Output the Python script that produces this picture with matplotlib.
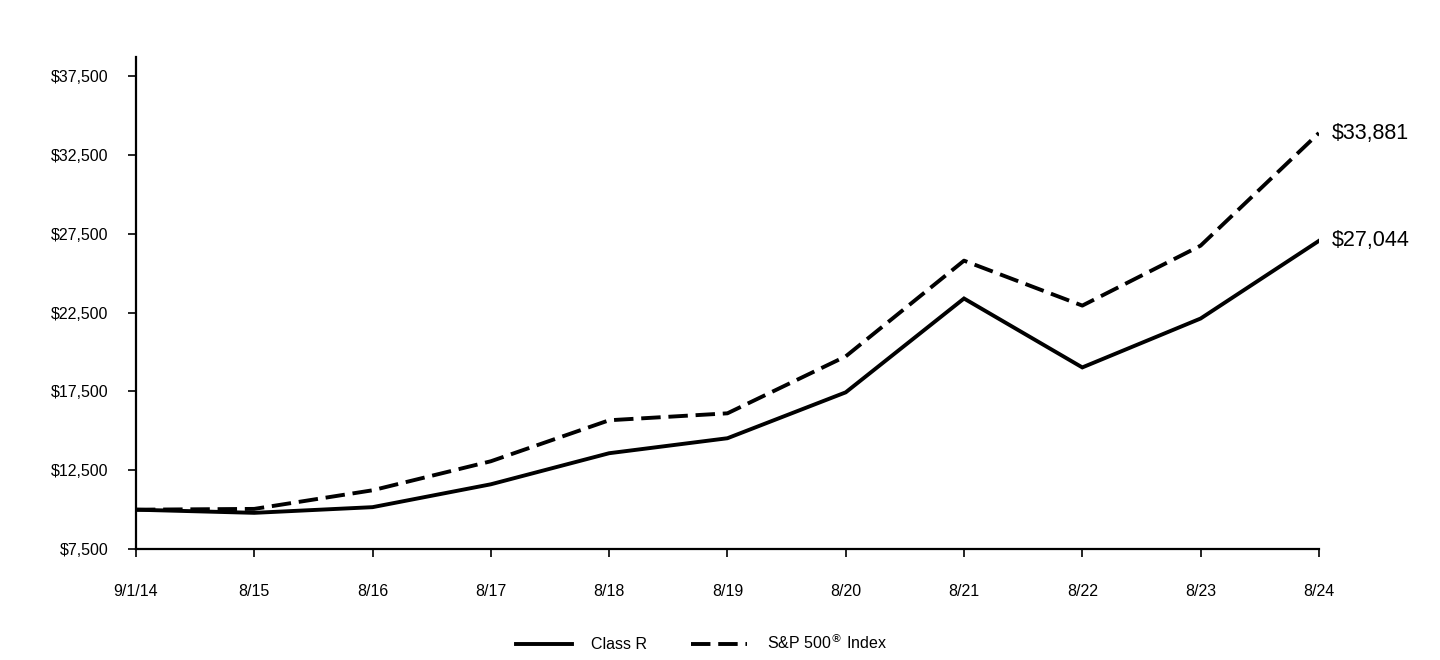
import numpy as np
import matplotlib
matplotlib.use('Agg')
from matplotlib import pyplot as plt

plt.rcParams['font.family'] = ['Liberation Sans', 'DejaVu Sans']

# data
dates = ['9/1/14', '8/15', '8/16', '8/17', '8/18', '8/19', '8/20', '8/21', '8/22', '8/23', '8/24']
class_r = [10000, 9800, 10160, 11610, 13580, 14530, 17440, 23390, 19020, 22120, 27044]
sp500 = [10000, 10050, 11230, 13070, 15670, 16110, 19720, 25790, 22940, 26740, 33881]
yticks = [7500, 12500, 17500, 22500, 27500, 32500, 37500]

fig = plt.figure(figsize=(14.4, 6.6), dpi=100)
ax = fig.add_axes([0.0944, 0.168, 0.8215, 0.7456])

x = np.arange(len(dates))
l1, = ax.plot(x, class_r, color='black', lw=2.8, solid_joinstyle='miter', label='Class R')
l2, = ax.plot(x, sp500, color='black', lw=2.8, dashes=(5, 2), label='S&P 500$^{®}$ Index')

ax.set_xlim(0, len(dates) - 1)
ax.set_ylim(7500, 38700)
ax.set_xticks(x)
ax.set_xticklabels(dates)
ax.set_yticks(yticks)
ax.set_yticklabels(['${:,}'.format(v) for v in yticks])

for s in ['top', 'right']:
    ax.spines[s].set_visible(False)
for s in ['left', 'bottom']:
    ax.spines[s].set_linewidth(1.6)
ax.tick_params(axis='y', length=6, width=1.2, pad=14, labelsize=11.5)
ax.tick_params(axis='x', length=6, width=1.2, pad=19, labelsize=11.5)

# end labels
for series in [class_r, sp500]:
    ax.annotate('${:,}'.format(series[-1]), xy=(x[-1], series[-1]), xytext=(9, 0),
                textcoords='offset points', va='center', ha='left', fontsize=15.5,
                annotation_clip=False)

fig.legend(handles=[l1, l2], loc='lower center', bbox_to_anchor=(0.487, -0.01), ncol=2,
           frameon=False, fontsize=11.5, handlelength=3.5, columnspacing=2.8, handletextpad=1.2)

fig.savefig('out.png', dpi=100)
